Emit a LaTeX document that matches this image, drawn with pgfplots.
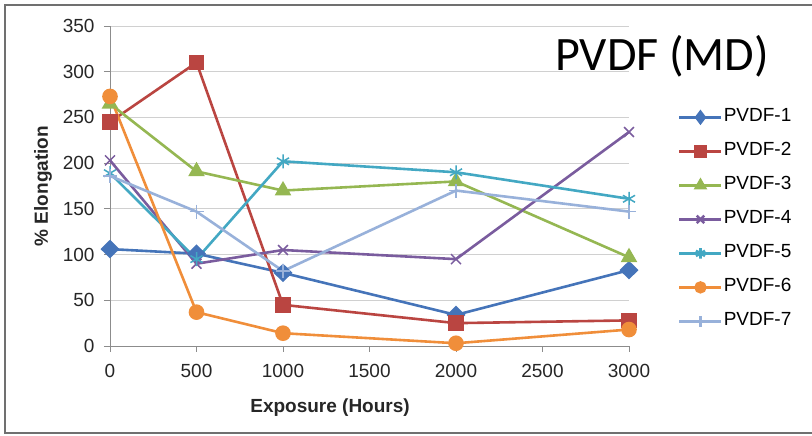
\documentclass[border=0pt]{standalone}
\usepackage{pgfplots}
\pgfplotsset{compat=1.18}
\usepackage{fontspec}
\setmainfont{Liberation Sans}
\newfontfamily\calfont{Carlito}
\definecolor{c1}{HTML}{4574B9}
\definecolor{c2}{HTML}{BA4541}
\definecolor{c3}{HTML}{95B752}
\definecolor{c4}{HTML}{7A5C9E}
\definecolor{c5}{HTML}{43A8C3}
\definecolor{c6}{HTML}{F08E3A}
\definecolor{c7}{HTML}{98B1DA}
\definecolor{gridc}{HTML}{D0D0D0}
\definecolor{axc}{HTML}{8C8C8C}
\begin{document}
\begin{tikzpicture}
\useasboundingbox (0,0) rectangle (812pt,436pt);
\draw[color=axc!80!black, line width=1.5pt] (5pt,3pt) rectangle (820pt,431pt);
\begin{axis}[
  at={(110pt,90pt)}, anchor=south west,
  scale only axis, width=519pt, height=320pt,
  xmin=0, xmax=3000, ymin=0, ymax=350,
  xtick={0,500,...,3000}, ytick={0,50,...,350},
  axis lines*=left,
  axis line style={color=axc, line width=0.8pt},
  tick align=outside,
  major tick length=6pt,
  tick style={color=axc, line width=0.8pt},
  ymajorgrids, grid style={color=gridc, line width=0.9pt},
  clip=false,
  /pgf/number format/assume math mode=true,
  /pgf/number format/1000 sep={},
  tick label style={font=\fontsize{19}{21}\selectfont, color=black!85},
  xticklabel style={yshift=-9pt},
  yticklabel style={xshift=-6pt},
  xlabel={Exposure (Hours)},
  ylabel={\% Elongation},
  label style={font=\bfseries\fontsize{19}{21}\selectfont, color=black!85},
  xlabel style={at={(axis description cs:0.424,-0.194)}, anchor=center},
  ylabel style={at={(axis description cs:-0.129,0.5)}, anchor=center},
  legend style={at={(axis description cs:1.0886,0.751)}, anchor=north west,
    draw=none, fill=none, font=\fontsize{19}{21}\selectfont,
    row sep=15pt, legend cell align=left,
    nodes={inner sep=1pt, text height=13pt, text depth=4pt}},
  legend image code/.code={\draw[mark repeat=2,mark phase=2,mark options={scale=0.75}] plot coordinates {(0pt,0pt) (21pt,0pt) (42pt,0pt)};},
  every axis plot/.append style={line width=2.6pt, mark options={solid}},
]
\addplot[c1, mark=diamond*, mark size=7.5pt, mark options={xscale=1.35}] coordinates {(0,106) (500,101) (1000,80) (2000,34) (3000,83)};
\addlegendentry{PVDF-1}
\addplot[c2, mark=square*, mark size=6.5pt] coordinates {(0,245) (500,310) (1000,45) (2000,25) (3000,28)};
\addlegendentry{PVDF-2}
\addplot[c3, mark=triangle*, mark size=7pt] coordinates {(0,265) (500,191) (1000,170) (2000,180) (3000,97)};
\addlegendentry{PVDF-3}
\addplot[c4, mark=x, mark size=7pt, mark options={line width=1.5pt}] coordinates {(0,203) (500,90) (1000,105) (2000,95) (3000,234)};
\addlegendentry{PVDF-4}
\addplot[c5, mark=asterisk, mark size=7pt, mark options={line width=1.5pt}] coordinates {(0,189) (500,95) (1000,202) (2000,190) (3000,161)};
\addlegendentry{PVDF-5}
\addplot[c6, mark=*, mark size=6.5pt] coordinates {(0,273) (500,37) (1000,14) (2000,3) (3000,18)};
\addlegendentry{PVDF-6}
\addplot[c7, mark=+, mark size=7pt, mark options={line width=1.5pt}] coordinates {(0,186) (500,147) (1000,82) (2000,170) (3000,147)};
\addlegendentry{PVDF-7}
\end{axis}
\node[anchor=base west, inner sep=0pt, font=\calfont\fontsize{48}{56}\selectfont] at (555pt,365pt) {PVDF (MD)};
\end{tikzpicture}
\end{document}
